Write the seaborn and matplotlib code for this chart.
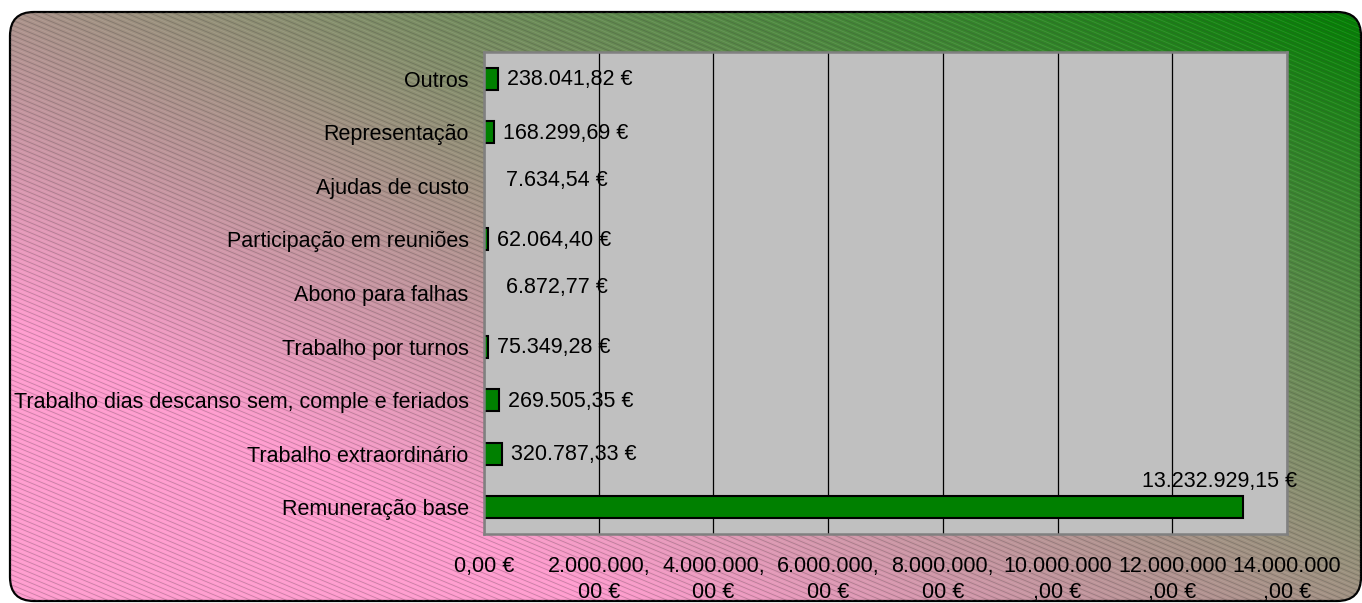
import numpy as np
import pandas as pd
import matplotlib
matplotlib.use("Agg")
import matplotlib.pyplot as plt
import seaborn as sns
from matplotlib.patches import FancyBboxPatch
from matplotlib.collections import LineCollection

# ---------------- data ----------------
categories = [
    "Outros",
    "Representação",
    "Ajudas de custo",
    "Participação em reuniões",
    "Abono para falhas",
    "Trabalho por turnos",
    "Trabalho dias descanso sem, comple e feriados",
    "Trabalho extraordinário",
    "Remuneração base",
]
values = [238041.82, 168299.69, 7634.54, 62064.40, 6872.77,
          75349.28, 269505.35, 320787.33, 13232929.15]
x_ticks = [0, 2000000, 4000000, 6000000, 8000000, 10000000, 12000000, 14000000]
x_max = 14000000


def fmt_eur(v):
    s = f"{v:,.2f}".replace(",", "X").replace(".", ",").replace("X", ".")
    return s + " €"


def tick_label(v):
    s = fmt_eur(v)
    return s if len(s) <= 10 else s[:10] + "\n" + s[10:]


# ---------------- style ----------------
sns.set_style("white")
plt.rcParams["font.family"] = ["Liberation Sans", "DejaVu Sans"]
plt.rcParams["text.color"] = "black"
FS = 15.5

W, H = 1362, 603
fig = plt.figure(figsize=(W / 100, H / 100), dpi=100)
fig.patch.set_facecolor("white")

# ---------------- background (gradient + hatch, rounded frame) ----------------
bg = fig.add_axes([0, 0, 1, 1], zorder=0)
bg.set_xlim(0, W)
bg.set_ylim(H, 0)
bg.axis("off")

x0, y0, x1, y1 = 10, 12, 1361, 601
RS = 24
frame = FancyBboxPatch((x0, y0), x1 - x0, y1 - y0,
                       boxstyle=f"round,pad=0,rounding_size={RS}",
                       facecolor="none", edgecolor="none", clip_on=False)
bg.add_patch(frame)

xx, yy = np.meshgrid(np.arange(W) + 0.5, np.arange(H) + 0.5)
u = (x1 - xx) / (x1 - x0)
v = (yy - y0) / (y1 - y0)
t = np.clip(0.67 * u + 0.63 * v, 0, 1)[..., None]
green = np.array([0, 128, 0]) / 255
pink = np.array([255, 155, 206]) / 255
img = green * (1 - t) + pink * t
im = bg.imshow(img, extent=(0, W, H, 0), origin="upper", interpolation="bilinear")
im.set_clip_path(frame)

slope = 0.42
segs_dark, segs_light = [], []
for c in np.arange(-700, 700, 5.0):
    segs_dark.append([(0, c), (W, c + slope * W)])
    segs_light.append([(0, c + 2.5), (W, c + 2.5 + slope * W)])
lc_d = LineCollection(segs_dark, colors=(0.25, 0.25, 0.25, 0.30), linewidths=0.6)
lc_l = LineCollection(segs_light, colors=(1, 1, 1, 0.10), linewidths=0.6)
bg.add_collection(lc_l)
bg.add_collection(lc_d)
lc_d.set_clip_path(frame)
lc_l.set_clip_path(frame)

border = FancyBboxPatch((x0, y0), x1 - x0, y1 - y0,
                        boxstyle=f"round,pad=0,rounding_size={RS}",
                        facecolor="none", edgecolor="black", linewidth=1.6,
                        clip_on=False)
bg.add_patch(border)

# ---------------- main chart ----------------
L, T, R, B = 484, 52, 1287, 534
ax = fig.add_axes([L / W, (H - B) / H, (R - L) / W, (B - T) / H], zorder=2)
ax.set_facecolor("#C0C0C0")

df = pd.DataFrame({"category": categories, "value": values})
sns.barplot(data=df, x="value", y="category", orient="h", color="#008000",
            saturation=1, edgecolor="black", linewidth=1.5, width=0.41, ax=ax)

ax.set_xlim(0, x_max)
ax.set_ylim(len(categories) - 0.5, -0.5)
ax.set_xlabel("")
ax.set_ylabel("")

ax.set_axisbelow(True)
ax.xaxis.grid(True, color="black", linewidth=0.9)
ax.yaxis.grid(False)

for s in ax.spines.values():
    s.set_visible(True)
    s.set_color("#808080")
    s.set_linewidth(1.8)

ax.set_xticks(x_ticks)
ax.set_xticklabels([tick_label(v) for v in x_ticks], fontsize=FS, linespacing=1.3)
ax.tick_params(axis="x", direction="out", length=6, width=1, color="#404040",
               pad=10, labelcolor="black")
ax.set_yticks(range(len(categories)))
ax.set_yticklabels(categories, fontsize=FS)
ax.tick_params(axis="y", which="major", length=0, pad=11, labelcolor="black")
ax.set_yticks(np.arange(-0.5, len(categories), 1), minor=True)
ax.tick_params(axis="y", which="minor", direction="out", length=6, width=1,
               color="#404040")

# value labels
for i, val in enumerate(values):
    if val > 0.9 * x_max:
        ax.annotate(fmt_eur(val), xy=(val, i), xytext=(-23, 26),
                    textcoords="offset pixels", ha="center", va="center",
                    fontsize=FS, color="black", annotation_clip=False)
    elif val / x_max * (R - L) < 1:
        ax.annotate(fmt_eur(val), xy=(val, i), xytext=(22, 5),
                    textcoords="offset pixels", ha="left", va="center",
                    fontsize=FS, color="black")
    else:
        ax.annotate(fmt_eur(val), xy=(val, i), xytext=(9, -1),
                    textcoords="offset pixels", ha="left", va="center",
                    fontsize=FS, color="black")

fig.savefig("out.png", dpi=100, facecolor="white")
